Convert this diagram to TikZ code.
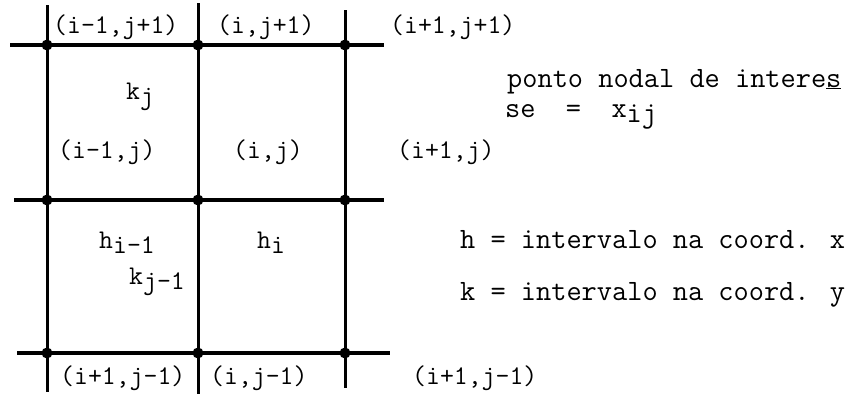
\documentclass[tikz,border=0pt]{standalone}
\begin{document}
\begin{tikzpicture}[x=1pt,y=-1pt,
  gridline/.style={line width=3.6pt},
  vline/.style={line width=3pt},
  nodedot/.style={circle,fill=black,inner sep=0pt,minimum size=11pt},
  lbl/.style={anchor=base west,inner sep=0pt,font=\fontsize{27}{29}\ttfamily},
  txt/.style={anchor=base west,inner sep=0pt,font=\fontsize{29.5}{31}\ttfamily}]
\newcommand{\lowr}[1]{\raisebox{-0.2em}{#1}}
\useasboundingbox (0,0) rectangle (860,394);
% grid coordinates
\coordinate (h1w) at (10,45);  \coordinate (h1e) at (384,45);
\coordinate (h2w) at (14,200); \coordinate (h2e) at (384,200);
\coordinate (h3w) at (17,353); \coordinate (h3e) at (390,353);
\coordinate (v1n) at (47,5);   \coordinate (v1s) at (47,392);
\coordinate (v2n) at (198,3);  \coordinate (v2s) at (198,394);
\coordinate (v3n) at (345,10); \coordinate (v3s) at (345,388);
\draw[gridline] (h1w) -- (h1e);
\draw[gridline] (h2w) -- (h2e);
\draw[gridline] (h3w) -- (h3e);
\draw[vline] (v1n) -- (v1s);
\draw[vline] (v2n) -- (v2s);
\draw[vline] (v3n) -- (v3s);
% nodal points
\foreach \xx/\cc in {47/a,198/b,345/c}{
  \foreach \yy/\rr in {45/1,200/2,353/3}{
    \node[nodedot] (p\cc\rr) at (\xx,\yy) {};
  }
}
% labels
\node[lbl] (l11) at (53,33) {(i-1,j+1)};
\node[lbl] (l12) at (217,33) {(i,j+1)};
\node[lbl] (l13) at (390,33) {(i+1,j+1)};
\node[lbl] (l21) at (58,158) {(i-1,j)};
\node[lbl] (l22) at (233,158) {(i,j)};
\node[lbl] (l23) at (397,158) {(i+1,j)};
\node[lbl] (l31) at (60,384) {(i+1,j-1)};
\node[lbl] (l32) at (210,384) {(i,j-1)};
\node[lbl] (l33) at (412,384) {(i+1,j-1)};
% intervals
\node[lbl] (kj) at (126,99) {k\lowr{j}};
\node[lbl] (him) at (99,248) {h\lowr{i-1}};
\node[lbl] (hi) at (257,248) {h\lowr{i}};
\node[lbl] (kjm) at (129,284) {k\lowr{j-1}};
% right texts
\node[txt] (t1) at (507,87) {ponto nodal de intere\underline{s}};
\node[txt] (t2) at (505,117) {se\ \ =\ \ x\lowr{ij}};
\node[txt] (t3) at (460,248) {h = intervalo na coord. x};
\node[txt] (t4) at (460,300) {k = intervalo na coord. y};
\end{tikzpicture}
\end{document}
